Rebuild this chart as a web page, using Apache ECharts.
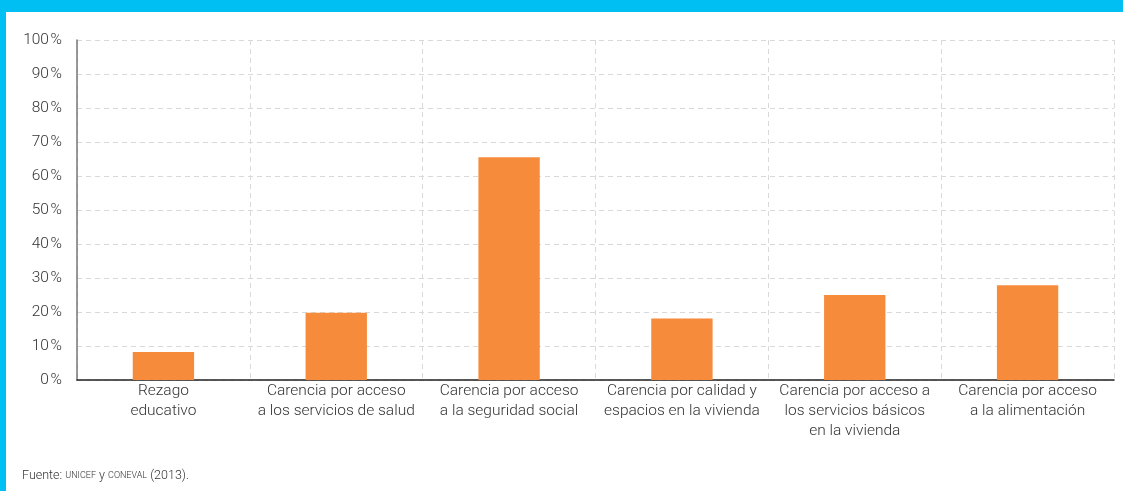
<!DOCTYPE html>
<html><head><meta charset="utf-8">
<script src="https://cdn.jsdelivr.net/npm/echarts@6/dist/echarts.min.js"></script>
<style>
html,body{margin:0;padding:0;background:#fff;}
#wrap{position:absolute;left:0;top:0;width:1123px;height:491px;background:#00BFF3;}
#inner{position:absolute;left:6px;top:12px;width:1117px;height:479px;background:#fff;}
#chart{position:absolute;left:0;top:0;width:1123px;height:491px;}
</style></head>
<body>
<div id="wrap"><div id="inner"></div></div>
<div id="chart"></div>
<script>
const categories = [
  "Rezago\neducativo",
  "Carencia por acceso\na los servicios de salud",
  "Carencia por acceso\na la seguridad social",
  "Carencia por calidad y\nespacios en la vivienda",
  "Carencia por acceso a\nlos servicios básicos\nen la vivienda",
  "Carencia por acceso\na la alimentación"
];
const values = [8.2, 19.8, 65.5, 18.1, 25.0, 27.9];
const yTicks = [0, 10, 20, 30, 40, 50, 60, 70, 80, 90, 100];

const FONT = "Roboto";
const chart = echarts.init(document.getElementById('chart'), null, {renderer: 'canvas'});
chart.setOption({
  backgroundColor: 'transparent',
  animation: false,
  grid: {left: 77, right: 9, top: 40, bottom: 111, containLabel: false},
  xAxis: {
    type: 'category',
    data: categories,
    boundaryGap: true,
    axisLine: {show: true, lineStyle: {color: '#222', width: 1.5}},
    axisTick: {show: false},
    axisLabel: {color: '#333', fontSize: 15.5, fontFamily: FONT, fontWeight: 300, lineHeight: 20, margin: 1, interval: 0},
    splitLine: {show: true, lineStyle: {color: '#d9d9d9', type: [5, 4], width: 1}}
  },
  yAxis: {
    type: 'value',
    min: 0, max: 100, interval: 10,
    axisLine: {show: true, lineStyle: {color: '#777', width: 1.5}},
    axisTick: {show: false},
    axisLabel: {color: '#333', fontSize: 15.5, fontFamily: FONT, fontWeight: 300, margin: 15,
      formatter: v => yTicks.includes(v) ? v + '\u200A%' : ''},
    splitLine: {show: true, lineStyle: {color: '#d9d9d9', type: [5, 4], width: 1}}
  },
  series: [{
    type: 'bar',
    data: values,
    barWidth: '35.5%',
    itemStyle: {color: '#F68B3B'},
    silent: true
  }],
  graphic: [{
    type: 'text',
    left: 22, top: 469,
    style: {
      text: '{n|Fuente: }{s|UNICEF}{n| y }{s|CONEVAL}{n| (2013).}',
      rich: {
        n: {fontSize: 12.5, fontFamily: FONT, fontWeight: 300, fill: '#333'},
        s: {fontSize: 9, fontFamily: FONT, fontWeight: 300, fill: '#333'}
      }
    }
  }]
});
</script>
</body></html>
